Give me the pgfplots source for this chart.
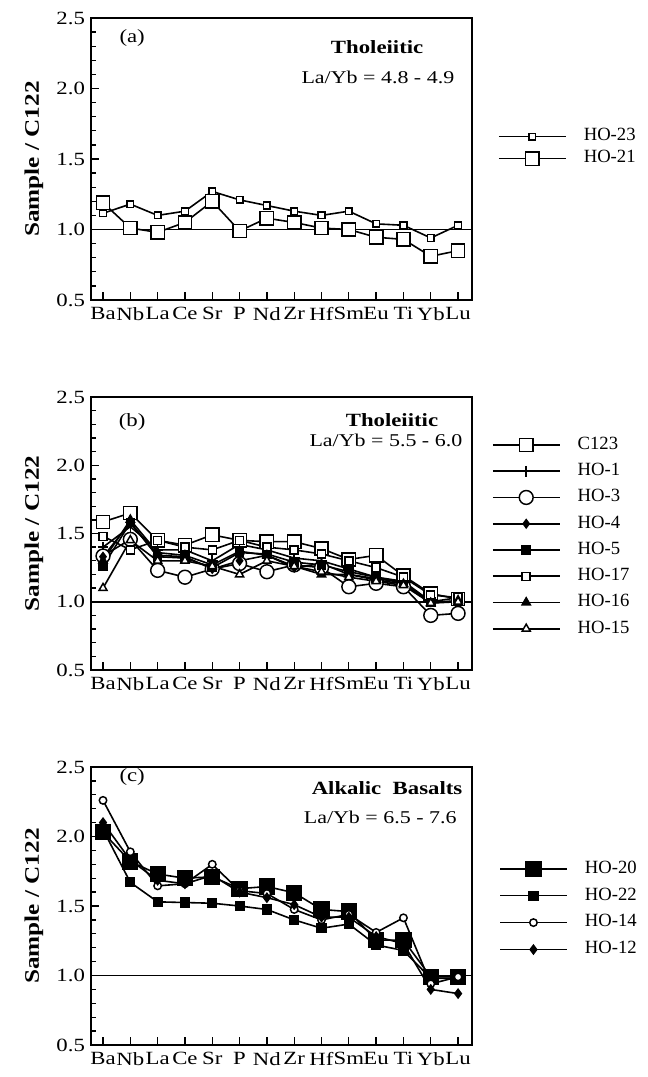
\documentclass[border=0pt]{standalone}
\usepackage{fontspec}
\setmainfont{Liberation Serif}
\usepackage{graphicx}
\usepackage{pgfplots}
\usepackage{pgfplotstable}
\pgfplotsset{compat=1.18}
\newcommand\sx[1]{\scalebox{1.22}[1]{#1}}

\pgfplotstableread{
x HOa HOb
0 1.115 1.19
1 1.18 1.01
2 1.10 0.98
3 1.13 1.05
4 1.27 1.20
5 1.21 0.99
6 1.17 1.08
7 1.13 1.05
8 1.10 1.01
9 1.13 1.00
10 1.04 0.945
11 1.03 0.93
12 0.94 0.81
13 1.03 0.85
}\tabA

\pgfplotstableread{
x C123 HOone HOthree HOfour HOfive HOseventeen HOsixteen HOfifteen
0 1.585 1.40 1.335 1.33 1.26 1.48 1.30 1.10
1 1.65 1.55 1.457 1.58 1.58 1.38 1.60 1.45
2 1.45 1.38 1.23 1.34 1.33 1.45 1.36 1.30
3 1.415 1.38 1.18 1.33 1.32 1.40 1.34 1.30
4 1.49 1.30 1.24 1.24 1.25 1.38 1.27 1.26
5 1.45 1.42 1.28 1.30 1.36 1.45 1.37 1.20
6 1.44 1.38 1.22 1.34 1.35 1.40 1.34 1.30
7 1.44 1.32 1.27 1.25 1.29 1.38 1.26 1.26
8 1.39 1.30 1.25 1.28 1.27 1.35 1.20 1.22
9 1.31 1.24 1.11 1.20 1.22 1.30 1.20 1.18
10 1.34 1.18 1.135 1.17 1.18 1.25 1.16 1.15
11 1.19 1.15 1.11 1.14 1.14 1.18 1.13 1.12
12 1.06 1.00 0.90 1.00 1.00 1.05 0.99 0.99
13 1.02 1.00 0.915 1.00 1.03 1.03 1.01 1.00
}\tabB

\pgfplotstableread{
x HOtwenty HOtwentytwo HOfourteen HOtwelve
0 2.03 2.05 2.26 2.10
1 1.82 1.67 1.89 1.83
2 1.73 1.53 1.645 1.685
3 1.70 1.525 1.66 1.66
4 1.71 1.52 1.80 1.72
5 1.625 1.50 1.61 1.60
6 1.64 1.475 1.59 1.56
7 1.595 1.40 1.475 1.51
8 1.475 1.34 1.40 1.42
9 1.46 1.37 1.44 1.42
10 1.255 1.22 1.31 1.28
11 1.255 1.18 1.415 1.23
12 0.99 0.98 0.94 0.90
13 0.99 0.98 0.99 0.87
}\tabC

\pgfplotsset{
  panel/.style={
    scale only axis,
    width=285.75pt,
    xmin=-0.44, xmax=13.51,
    ymin=0.5, ymax=2.5,
    xtick={0,...,13},
    xticklabels={\sx{Ba},\sx{Nb},\sx{La},\sx{Ce},\sx{Sr},\sx{P},\sx{Nd},\sx{Zr},\sx{Hf},\sx{Sm},\sx{Eu},\sx{Ti},\sx{Yb},\sx{Lu}},
    ytick={0.5,1.0,1.5,2.0,2.5},
    yticklabels={\sx{0.5},\sx{1.0},\sx{1.5},\sx{2.0},\sx{2.5}},
    minor y tick num=4,
    tick pos=left,
    tick align=inside,
    major tick length=6pt,
    minor tick length=3.5pt,
    every tick/.style={black, line width=1pt},
    axis line style={line width=2pt},
    tick label style={font=\fontsize{14}{16}\selectfont},
    xticklabel style={yshift=-2pt, inner xsep=0pt},
    yticklabel style={xshift=-1pt},
    ylabel={\sx{\bfseries Sample / C122}},
    every axis y label/.style={at={(axis description cs:-0.150,0.5)}, rotate=90, anchor=center, font=\fontsize{15.5}{17}\selectfont},
    every axis plot/.append style={black, line width=1.2pt},
    legend cell align=left,
    legend image code/.code={\draw[mark repeat=2,mark phase=2] plot coordinates {(0pt,0pt)(25pt,0pt)(50pt,0pt)};},
    clip=false,
  },
  lgd/.style 2 args={legend style={at={#1}, anchor=north west, draw=none, fill=none, inner sep=0pt, row sep=#2, column sep=13pt, nodes={inner sep=0pt, text height=9.5pt, text depth=3pt}, font=\fontsize{14}{16}\selectfont}},
  opensq/.style={mark=square*, mark size=#1, mark options={fill=white, solid, line width=1.1pt}},
  fillsq/.style={mark=square*, mark size=#1, mark options={fill=black, solid}},
}

\begin{document}
\begin{tikzpicture}[font=\fontsize{14}{16}\selectfont]
\useasboundingbox (0,0) rectangle (485.25pt,-807.75pt);

% ---------------- (a)
\begin{axis}[panel, height=211.5pt, at={(68.25pt,-13.5pt)}, anchor=north west,
  lgd={(1.068,0.610)}{4pt}]
\addplot[forget plot, line width=1.4pt] coordinates {(-0.44,1) (13.51,1)};
\addplot[opensq=2.5pt] table[x=x,y=HOa]{\tabA};
\addlegendentry{HO-23}
\addplot[opensq=5pt] table[x=x,y=HOb]{\tabA};
\addlegendentry{HO-21}
\node at (rel axis cs:0.108,0.929) {\sx{(a)}};
\node at (rel axis cs:0.751,0.897) {\fontsize{14}{16}\selectfont\sx{\bfseries Tholeiitic}};
\node at (rel axis cs:0.753,0.791) {\fontsize{13.5}{16}\selectfont\sx{La/Yb = 4.8 - 4.9}};
\end{axis}

% ---------------- (b)
\begin{axis}[panel, height=204.75pt, at={(68.25pt,-297.75pt)}, anchor=north west,
  lgd={(1.052,0.856)}{7.2pt}]
\addplot[forget plot, line width=1.6pt] coordinates {(-0.44,1) (13.51,1)};
\addplot[opensq=5pt] table[x=x,y=C123]{\tabB};
\addlegendentry{C123}
\addplot[mark=+, mark size=4pt, mark options={solid, line width=1.2pt}] table[x=x,y=HOone]{\tabB};
\addlegendentry{HO-1}
\addplot[mark=*, mark size=5.2pt, mark options={fill=white, solid, line width=1.1pt}] table[x=x,y=HOthree]{\tabB};
\addlegendentry{HO-3}
\addplot[mark=diamond*, mark size=3pt, mark options={fill=black, solid}] table[x=x,y=HOfour]{\tabB};
\addlegendentry{HO-4}
\addplot[fillsq=3pt] table[x=x,y=HOfive]{\tabB};
\addlegendentry{HO-5}
\addplot[opensq=3pt] table[x=x,y=HOseventeen]{\tabB};
\addlegendentry{HO-17}
\addplot[mark=triangle*, mark size=3.5pt, mark options={fill=black, solid}] table[x=x,y=HOsixteen]{\tabB};
\addlegendentry{HO-16}
\addplot[mark=triangle*, mark size=3.5pt, mark options={fill=white, solid, line width=1.1pt}] table[x=x,y=HOfifteen]{\tabB};
\addlegendentry{HO-15}
\node at (rel axis cs:0.108,0.908) {\sx{(b)}};
\node at (rel axis cs:0.790,0.916) {\fontsize{14}{16}\selectfont\sx{\bfseries Tholeiitic}};
\node at (rel axis cs:0.774,0.842) {\fontsize{13.5}{16}\selectfont\sx{La/Yb = 5.5 - 6.0}};
\end{axis}

% ---------------- (c)
\begin{axis}[panel, height=208.5pt, at={(68.25pt,-575.25pt)}, anchor=north west,
  lgd={(1.071,0.665)}{7.7pt}]
\addplot[forget plot, line width=1.2pt] coordinates {(-0.44,1) (13.51,1)};
\addplot[fillsq=5.5pt] table[x=x,y=HOtwenty]{\tabC};
\addlegendentry{HO-20}
\addplot[fillsq=3.2pt] table[x=x,y=HOtwentytwo]{\tabC};
\addlegendentry{HO-22}
\addplot[mark=*, mark size=2.8pt, mark options={fill=white, solid, line width=1.1pt}] table[x=x,y=HOfourteen]{\tabC};
\addlegendentry{HO-14}
\addplot[mark=diamond*, mark size=3.2pt, mark options={fill=black, solid}] table[x=x,y=HOtwelve]{\tabC};
\addlegendentry{HO-12}
\node at (rel axis cs:0.108,0.964) {\sx{(c)}};
\node at (rel axis cs:0.777,0.924) {\fontsize{14}{16}\selectfont\sx{\bfseries Alkalic\ \ Basalts}};
\node at (rel axis cs:0.759,0.820) {\fontsize{13.5}{16}\selectfont\sx{La/Yb = 6.5 - 7.6}};
\end{axis}
\end{tikzpicture}
\end{document}
